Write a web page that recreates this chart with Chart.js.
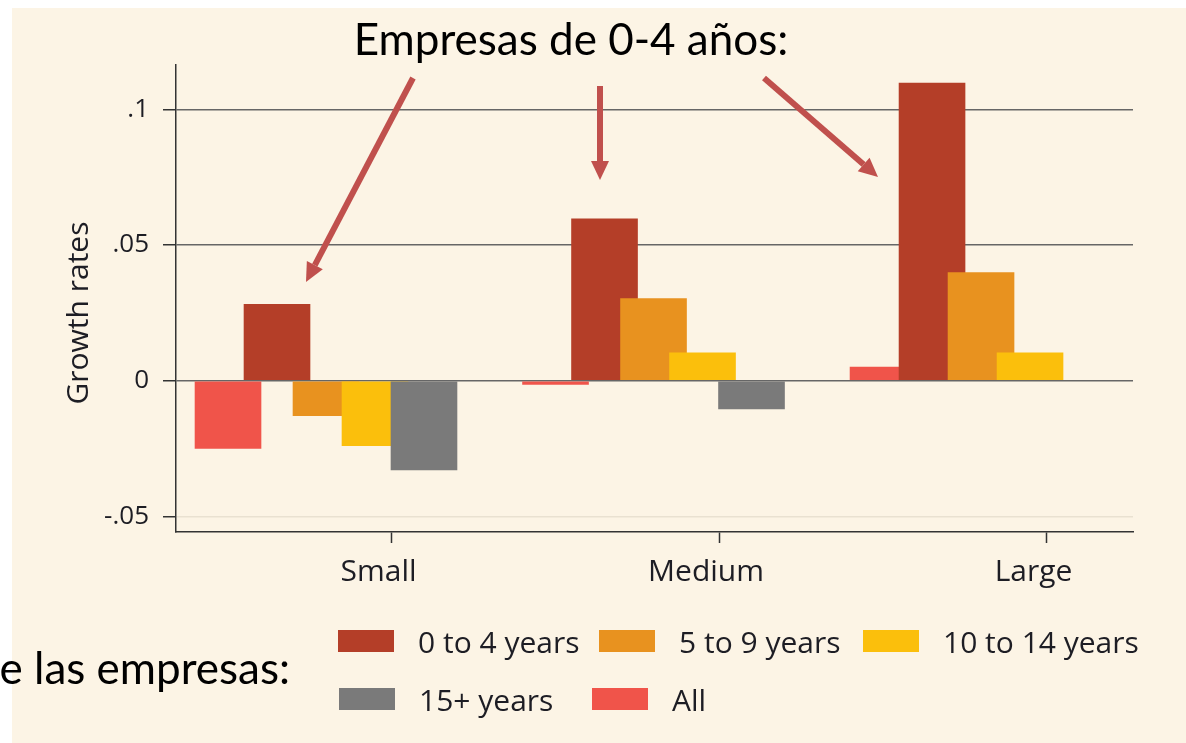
<!DOCTYPE html>
<html>
<head>
<meta charset="utf-8">
<script src="https://cdn.jsdelivr.net/npm/chart.js@4.4.1/dist/chart.umd.min.js"></script>
<style>
  html, body { margin: 0; padding: 0; background: #fff; overflow: hidden; }
  canvas { display: block; }
</style>
</head>
<body>
<canvas id="growthChart" width="1186" height="743"></canvas>
<script>
// firm size groups
const sizeLabels = ['Small', 'Medium', 'Large'];

// series, in the order the bars sit inside each group
const seriesNames = ['All', '0 to 4 years', '5 to 9 years', '10 to 14 years', '15+ years'];
const allFirms  = [-0.0250, -0.0015, 0.0052];
const age0to4   = [0.0283, 0.0598, 0.1098];
const age5to9   = [-0.0130, 0.0304, 0.0400];
const age10to14 = [-0.0240, 0.0104, 0.0104];
const age15plus = [-0.0330, -0.0105, 0.0000];
const seriesColors = ['#f0544a', '#b43e28', '#e8921f', '#fbbf0c', '#7a7a7a'];

// legend order as printed in the figure
const legendOrder = ['0 to 4 years', '5 to 9 years', '10 to 14 years', '15+ years', 'All'];

// y axis ticks
const yTickValues = [-0.05, 0, 0.05, 0.1];
const yTickLabels = ['-.05', '0', '.05', '.1'];

const seriesValues = [allFirms, age0to4, age5to9, age10to14, age15plus];
const datasets = seriesNames.map((name, i) => ({
    label: name,
    data: seriesValues[i].map((v, j) => ({ x: j, y: v })),
    backgroundColor: seriesColors[i],
    borderWidth: 0
}));

const TEXT = '#1d1d24';
const ARROW = '#c0504d';

// paper background with the white strip on top and left
const paperPlugin = {
    id: 'paper',
    beforeDraw(chart) {
        const ctx = chart.ctx;
        ctx.save();
        ctx.fillStyle = '#ffffff';
        ctx.fillRect(0, 0, chart.width, chart.height);
        ctx.fillStyle = '#fcf4e5';
        ctx.fillRect(12, 8, chart.width - 12, chart.height - 8);
        ctx.restore();
    }
};

// later series are painted over earlier ones (bars overlap a little)
const drawOrderPlugin = {
    id: 'drawOrder',
    beforeDatasetsDraw(chart) {
        for (let i = 0; i < chart.data.datasets.length; i++) {
            const meta = chart.getDatasetMeta(i);
            if (!meta.hidden) meta.controller.draw();
        }
        return false;
    }
};

function drawArrow(ctx, x1, y1, x2, y2) {
    const ang = Math.atan2(y2 - y1, x2 - x1);
    const head = 19, half = 9;
    const bx = x2 - head * Math.cos(ang), by = y2 - head * Math.sin(ang);
    ctx.beginPath();
    ctx.moveTo(x1, y1);
    ctx.lineTo(bx, by);
    ctx.stroke();
    ctx.beginPath();
    ctx.moveTo(x2, y2);
    ctx.lineTo(bx + half * Math.sin(ang), by - half * Math.cos(ang));
    ctx.lineTo(bx - half * Math.sin(ang), by + half * Math.cos(ang));
    ctx.closePath();
    ctx.fill();
}

// slide texts, arrows, axis title and legend
const overlayPlugin = {
    id: 'overlay',
    afterDraw(chart) {
        const ctx = chart.ctx;
        ctx.save();

        ctx.fillStyle = '#000';
        ctx.font = '44px Lato';
        ctx.textBaseline = 'alphabetic';
        ctx.textAlign = 'center';
        ctx.fillText('Empresas de 0-4 años:', 571, 55);
        ctx.textAlign = 'right';
        ctx.fillText('e las empresas:', 290, 684);

        // y axis title
        ctx.save();
        ctx.translate(79, 313);
        ctx.rotate(-Math.PI / 2);
        ctx.textAlign = 'center';
        ctx.textBaseline = 'middle';
        ctx.fillStyle = TEXT;
        ctx.font = '30px "Open Sans"';
        ctx.fillText('Growth rates', 0, 0);
        ctx.restore();

        // arrows
        ctx.strokeStyle = ARROW;
        ctx.fillStyle = ARROW;
        ctx.lineWidth = 6;
        drawArrow(ctx, 413, 78, 306, 282);
        drawArrow(ctx, 600, 86, 600, 180);
        drawArrow(ctx, 764, 78, 878, 177);

        // legend
        const cols = [[338, 599, 863], [339, 592]];
        const baselines = [653, 711];
        ctx.font = '30px "Open Sans"';
        ctx.textAlign = 'left';
        ctx.textBaseline = 'alphabetic';
        legendOrder.forEach((name, k) => {
            const r = k < 3 ? 0 : 1;
            const c = k < 3 ? k : k - 3;
            const i = seriesNames.indexOf(name);
            const x = cols[r][c], yb = baselines[r];
            ctx.fillStyle = seriesColors[i];
            ctx.fillRect(x, yb - 23, 56, 22);
            ctx.fillStyle = TEXT;
            ctx.fillText(name, x + 80, yb);
        });

        ctx.restore();
    }
};

const ctx = document.getElementById('growthChart').getContext('2d');
new Chart(ctx, {
    type: 'bar',
    data: { datasets: datasets },
    options: {
        responsive: false,
        animation: false,
        devicePixelRatio: 1,
        layout: { padding: { top: 65, right: 53, bottom: 0, left: 0 } },
        datasets: {
            bar: { categoryPercentage: 0.748, barPercentage: 1.36 }
        },
        plugins: {
            legend: { display: false },
            tooltip: { enabled: false }
        },
        scales: {
            x: {
                type: 'linear',
                min: -0.458,
                max: 2.464,
                offset: false,
                afterBuildTicks: (scale) => {
                    scale.ticks = sizeLabels.map((_, i) => ({ value: i + 0.2 }));
                },
                afterFit: (scale) => { scale.height = 211; },
                ticks: {
                    callback: (v) => sizeLabels[Math.round(v - 0.2)],
                    autoSkip: false,
                    maxRotation: 0,
                    labelOffset: -13,
                    padding: 11,
                    color: TEXT,
                    font: { family: 'Open Sans', size: 30 }
                },
                grid: {
                    drawOnChartArea: false,
                    offset: false,
                    tickLength: 11,
                    tickColor: '#333',
                    tickWidth: 1.5
                },
                border: { color: '#333', width: 1.5 }
            },
            y: {
                min: -0.0557,
                max: 0.1163,
                afterBuildTicks: (scale) => {
                    scale.ticks = yTickValues.map(v => ({ value: v }));
                },
                afterFit: (scale) => { scale.width = 176; },
                ticks: {
                    callback: (v) => yTickLabels[yTickValues.indexOf(v)],
                    padding: 14,
                    color: TEXT,
                    font: { family: 'Open Sans', size: 26 }
                },
                grid: {
                    color: (c) => (c.tick && c.tick.value < 0 ? '#e9e1d1' : '#666666'),
                    lineWidth: 1.5,
                    tickLength: 13,
                    tickColor: '#333',
                    tickWidth: 1.5
                },
                border: { color: '#333', width: 1.5 }
            }
        }
    },
    plugins: [paperPlugin, drawOrderPlugin, overlayPlugin]
});
</script>
</body>
</html>
